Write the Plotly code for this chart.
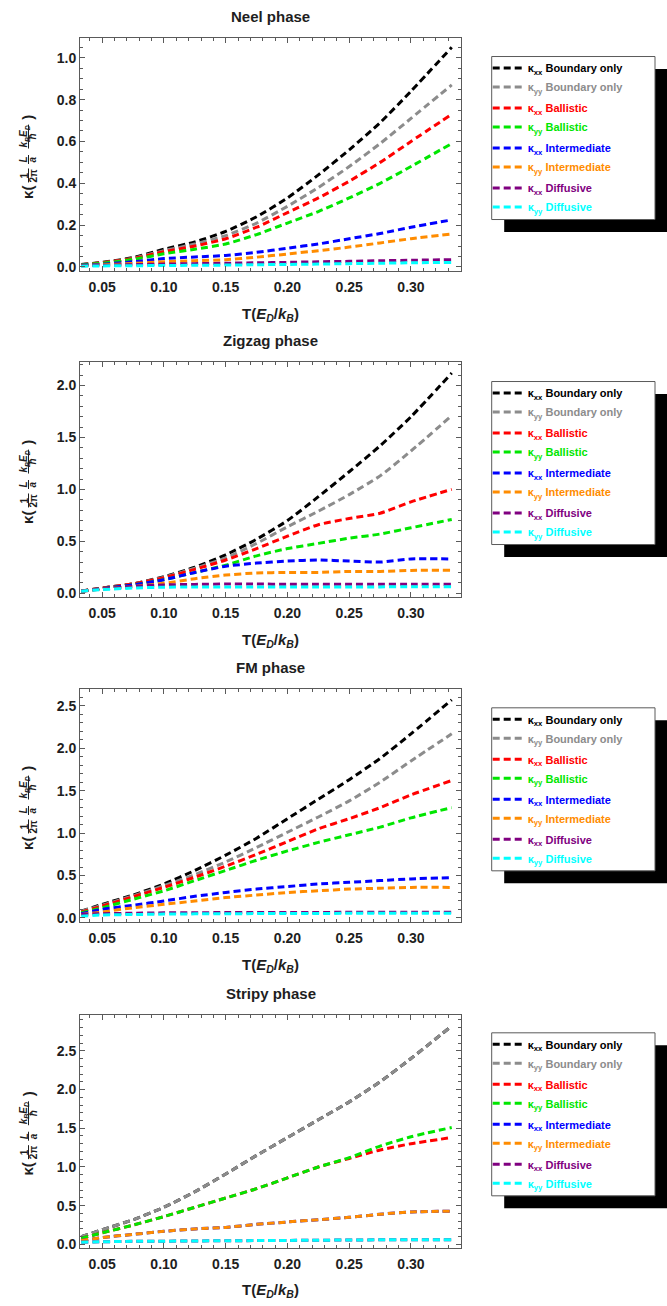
import plotly.graph_objects as go

# Temperature grid (units of E_D / k_B)
T = [0.033, 0.05, 0.075, 0.10, 0.125, 0.15, 0.175, 0.20, 0.225, 0.25, 0.275, 0.30, 0.333]

series_names = [
    ("xx", "Boundary only"), ("yy", "Boundary only"),
    ("xx", "Ballistic"), ("yy", "Ballistic"),
    ("xx", "Intermediate"), ("yy", "Intermediate"),
    ("xx", "Diffusive"), ("yy", "Diffusive"),
]
series_colors = ["#000000", "#8c8c8c", "#ff0000", "#00e600",
                 "#0000ff", "#ff8c00", "#800080", "#00ffff"]

# ---- Neel phase ----
neel_bd_xx = [0.012, 0.022, 0.045, 0.085, 0.12, 0.17, 0.24, 0.33, 0.44, 0.56, 0.69, 0.84, 1.05]
neel_bd_yy = [0.011, 0.020, 0.042, 0.078, 0.11, 0.15, 0.21, 0.29, 0.38, 0.48, 0.59, 0.71, 0.87]
neel_ba_xx = [0.011, 0.020, 0.040, 0.073, 0.10, 0.135, 0.19, 0.26, 0.33, 0.41, 0.50, 0.60, 0.73]
neel_ba_yy = [0.010, 0.018, 0.036, 0.063, 0.085, 0.11, 0.155, 0.21, 0.265, 0.33, 0.40, 0.48, 0.59]
neel_in_xx = [0.008, 0.013, 0.025, 0.040, 0.048, 0.055, 0.07, 0.09, 0.11, 0.135, 0.16, 0.19, 0.225]
neel_in_yy = [0.006, 0.010, 0.017, 0.025, 0.030, 0.035, 0.047, 0.062, 0.078, 0.095, 0.115, 0.135, 0.158]
neel_df_xx = [0.006, 0.008, 0.011, 0.014, 0.016, 0.018, 0.020, 0.022, 0.025, 0.027, 0.030, 0.032, 0.035]
neel_df_yy = [0.004, 0.005, 0.006, 0.007, 0.008, 0.009, 0.011, 0.012, 0.014, 0.016, 0.018, 0.020, 0.022]

# ---- Zigzag phase ----
zz_bd_xx = [0.02, 0.05, 0.09, 0.16, 0.25, 0.37, 0.52, 0.70, 0.93, 1.17, 1.42, 1.70, 2.12]
zz_bd_yy = [0.02, 0.05, 0.09, 0.155, 0.24, 0.34, 0.48, 0.64, 0.79, 0.95, 1.13, 1.37, 1.71]
zz_ba_xx = [0.02, 0.05, 0.09, 0.15, 0.23, 0.32, 0.43, 0.55, 0.66, 0.72, 0.77, 0.88, 1.00]
zz_ba_yy = [0.02, 0.045, 0.08, 0.13, 0.20, 0.27, 0.36, 0.43, 0.48, 0.53, 0.57, 0.63, 0.71]
zz_in_xx = [0.02, 0.045, 0.08, 0.13, 0.20, 0.26, 0.29, 0.31, 0.32, 0.31, 0.30, 0.33, 0.33]
zz_in_yy = [0.02, 0.04, 0.065, 0.095, 0.14, 0.175, 0.195, 0.20, 0.20, 0.21, 0.21, 0.22, 0.22]
zz_df_xx = [0.02, 0.04, 0.065, 0.08, 0.085, 0.088, 0.088, 0.087, 0.087, 0.086, 0.086, 0.086, 0.087]
zz_df_yy = [0.02, 0.035, 0.05, 0.058, 0.06, 0.06, 0.06, 0.06, 0.06, 0.061, 0.061, 0.062, 0.062]

# ---- FM phase ----
fm_bd_xx = [0.08, 0.16, 0.27, 0.40, 0.56, 0.74, 0.94, 1.17, 1.40, 1.63, 1.88, 2.17, 2.57]
fm_bd_yy = [0.08, 0.15, 0.26, 0.38, 0.51, 0.66, 0.83, 1.01, 1.19, 1.38, 1.60, 1.85, 2.17]
fm_ba_xx = [0.07, 0.14, 0.25, 0.36, 0.48, 0.61, 0.75, 0.90, 1.05, 1.17, 1.30, 1.45, 1.62]
fm_ba_yy = [0.06, 0.12, 0.22, 0.32, 0.44, 0.56, 0.68, 0.79, 0.89, 0.98, 1.07, 1.18, 1.30]
fm_in_xx = [0.05, 0.10, 0.15, 0.20, 0.255, 0.30, 0.34, 0.37, 0.40, 0.42, 0.44, 0.46, 0.475]
fm_in_yy = [0.04, 0.07, 0.12, 0.16, 0.20, 0.24, 0.27, 0.30, 0.32, 0.34, 0.35, 0.36, 0.36]
fm_df_xx = [0.04, 0.05, 0.055, 0.06, 0.062, 0.063, 0.064, 0.065, 0.065, 0.066, 0.066, 0.067, 0.067]
fm_df_yy = [0.02, 0.035, 0.04, 0.045, 0.048, 0.05, 0.051, 0.052, 0.053, 0.054, 0.054, 0.055, 0.055]

# ---- Stripy phase ----
st_bd_xx = [0.10, 0.19, 0.32, 0.48, 0.68, 0.91, 1.15, 1.38, 1.61, 1.84, 2.10, 2.40, 2.82]
st_bd_yy = [0.10, 0.19, 0.32, 0.48, 0.68, 0.91, 1.15, 1.38, 1.61, 1.84, 2.10, 2.40, 2.82]
st_ba_xx = [0.08, 0.15, 0.25, 0.36, 0.48, 0.60, 0.72, 0.86, 1.00, 1.11, 1.22, 1.30, 1.38]
st_ba_yy = [0.08, 0.15, 0.25, 0.36, 0.48, 0.60, 0.72, 0.86, 1.00, 1.12, 1.27, 1.39, 1.51]
st_in_xx = [0.05, 0.09, 0.13, 0.17, 0.20, 0.22, 0.26, 0.29, 0.32, 0.35, 0.39, 0.42, 0.43]
st_in_yy = [0.05, 0.09, 0.13, 0.17, 0.20, 0.22, 0.26, 0.29, 0.32, 0.35, 0.39, 0.42, 0.43]
st_df_xx = [0.03, 0.035, 0.04, 0.042, 0.045, 0.048, 0.05, 0.052, 0.055, 0.057, 0.06, 0.06, 0.062]
st_df_yy = [0.03, 0.035, 0.04, 0.042, 0.045, 0.048, 0.05, 0.052, 0.055, 0.057, 0.06, 0.06, 0.062]

W, H = 667, 1306
FONT = "Liberation Sans, Arial, sans-serif"
FRAME = "#5a5a5a"
TXT = "#1e1e1e"

panels = [
    dict(title="Neel phase", top=38, bottom=272, yrange=[-0.02, 1.095], dtick=0.2, minor=0.05,
         leg_top=56.7,
         data=[neel_bd_xx, neel_bd_yy, neel_ba_xx, neel_ba_yy, neel_in_xx, neel_in_yy, neel_df_xx, neel_df_yy]),
    dict(title="Zigzag phase", top=363, bottom=599, yrange=[-0.038, 2.228], dtick=0.5, minor=0.1,
         leg_top=382.7,
         data=[zz_bd_xx, zz_bd_yy, zz_ba_xx, zz_ba_yy, zz_in_xx, zz_in_yy, zz_df_xx, zz_df_yy]),
    dict(title="FM phase", top=691, bottom=925, yrange=[-0.05, 2.70], dtick=0.5, minor=0.1,
         leg_top=710,
         data=[fm_bd_xx, fm_bd_yy, fm_ba_xx, fm_ba_yy, fm_in_xx, fm_in_yy, fm_df_xx, fm_df_yy]),
    dict(title="Stripy phase", top=1017.7, bottom=1251.7, yrange=[-0.044, 2.967], dtick=0.5, minor=0.1,
         leg_top=1036,
         data=[st_bd_xx, st_bd_yy, st_ba_xx, st_ba_yy, st_in_xx, st_in_yy, st_df_xx, st_df_yy]),
]

X_LEFT, X_RIGHT = 80, 461
LEG_LEFT, LEG_RIGHT, LEG_H, SHADOW = 491.7, 655, 163.5, 12.5


def px(x):
    return x / W


def py(y):
    return 1 - y / H


def text_at(txt, x, y, size, angle=0):
    return dict(text=txt, x=px(x), y=py(y), xref="paper", yref="paper", showarrow=False,
                textangle=angle, xanchor="center", yanchor="middle",
                font=dict(family=FONT, size=size, color=TXT))


fig = go.Figure()
layout = dict(width=W, height=H, margin=dict(l=0, r=0, t=0, b=0),
              paper_bgcolor="white", plot_bgcolor="white",
              font=dict(family=FONT, color=TXT), showlegend=True)
annotations = []
shapes = []

for i, p in enumerate(panels):
    k = "" if i == 0 else str(i + 1)
    xa, ya, lg = "x" + k, "y" + k, "legend" + k
    for j, (vals, (comp, label), color) in enumerate(zip(p["data"], series_names, series_colors)):
        name = f'<span style="color:{color}"><b>κ<sub>{comp}</sub> {label}</b></span>'
        fig.add_trace(go.Scatter(
            x=T, y=vals, mode="lines", name=name, xaxis=xa, yaxis=ya, legend=lg,
            legendgroup=f"g{i}_{j // 2}",
            line=dict(color=color, width=3, dash="7px,4px", shape="spline", smoothing=0.6),
            hoverinfo="x+y"))

    axis_common = dict(showgrid=False, zeroline=False, showline=True, linecolor=FRAME, linewidth=1,
                       mirror="ticks", ticks="inside", ticklen=5, tickwidth=1, tickcolor=FRAME,
                       tickfont=dict(family=FONT, size=14, color=TXT, weight="bold"))
    layout["xaxis" + k] = dict(axis_common, domain=[px(X_LEFT), px(X_RIGHT)], range=[0.032, 0.3405],
                               anchor=ya, tickmode="array", ticklabelstandoff=3,
                               tickvals=[0.05, 0.10, 0.15, 0.20, 0.25, 0.30], tickformat=".2f",
                               minor=dict(dtick=0.01, tick0=0, ticks="inside", ticklen=3,
                                          tickcolor=FRAME, showgrid=False))
    layout["yaxis" + k] = dict(axis_common, domain=[py(p["bottom"]), py(p["top"])], range=p["yrange"],
                               anchor=xa, tick0=0, dtick=p["dtick"], tickformat=".1f",
                               minor=dict(dtick=p["minor"], tick0=0, ticks="inside", ticklen=3,
                                          tickcolor=FRAME, showgrid=False))
    layout[lg] = dict(x=px(LEG_LEFT - 4), y=py(p["leg_top"] - 3), xanchor="left", yanchor="top",
                      bgcolor="rgba(0,0,0,0)", borderwidth=0, tracegroupgap=2,
                      font=dict(family=FONT, size=11, color=TXT))

    xc = (X_LEFT + X_RIGHT) / 2
    cy = (p["top"] + p["bottom"]) / 2
    # panel title and x-axis title
    annotations.append(text_at(f"<b>{p['title']}</b>", xc, p["top"] - 21, 15))
    annotations.append(text_at("<b>T(<i>E</i><sub><i>D</i></sub>/<i>k</i><sub><i>B</i></sub>)</b>",
                               xc, p["bottom"] + 43, 15))
    # y-axis title: κ(1/2π · L/a · k_B E_D/ħ), written vertically
    ylab = [
        ("<b>κ(</b>", 28, cy + 38.5, 15),
        ("<b>1</b>", 24, cy + 21, 10), ("<b>2π</b>", 33, cy + 21, 10),
        ("<b><i>L</i></b>", 24, cy + 5, 10), ("<b><i>a</i></b>", 33, cy + 5, 10),
        ("<b><i>k</i><sub><i>B</i></sub><i>E</i><sub><i>D</i></sub></b>", 24, cy - 18, 10),
        ("<b><i>ħ</i></b>", 33, cy - 18, 10),
        ("<b>)</b>", 28, cy - 37, 15),
    ]
    for txt, xx, yy, fs in ylab:
        annotations.append(text_at(txt, xx, yy, fs, angle=-90))
    for y0, y1 in [(cy + 14, cy + 28), (cy + 0.5, cy + 9.5), (cy - 30, cy - 6)]:
        shapes.append(dict(type="line", xref="paper", yref="paper", x0=px(28.5), x1=px(28.5),
                           y0=py(y0), y1=py(y1), line=dict(color=TXT, width=1)))
    # legend frame with drop shadow
    t = p["leg_top"]
    shapes.append(dict(type="rect", xref="paper", yref="paper",
                       x0=px(LEG_LEFT + SHADOW), x1=px(W + 5), y0=py(t + SHADOW), y1=py(t + LEG_H + SHADOW),
                       fillcolor="black", line=dict(width=0), layer="above"))
    shapes.append(dict(type="rect", xref="paper", yref="paper",
                       x0=px(LEG_LEFT), x1=px(LEG_RIGHT), y0=py(t), y1=py(t + LEG_H),
                       fillcolor="white", line=dict(color=FRAME, width=1), layer="above"))

layout["annotations"] = annotations
layout["shapes"] = shapes
fig.update_layout(**layout)
fig.write_html("out.html")
